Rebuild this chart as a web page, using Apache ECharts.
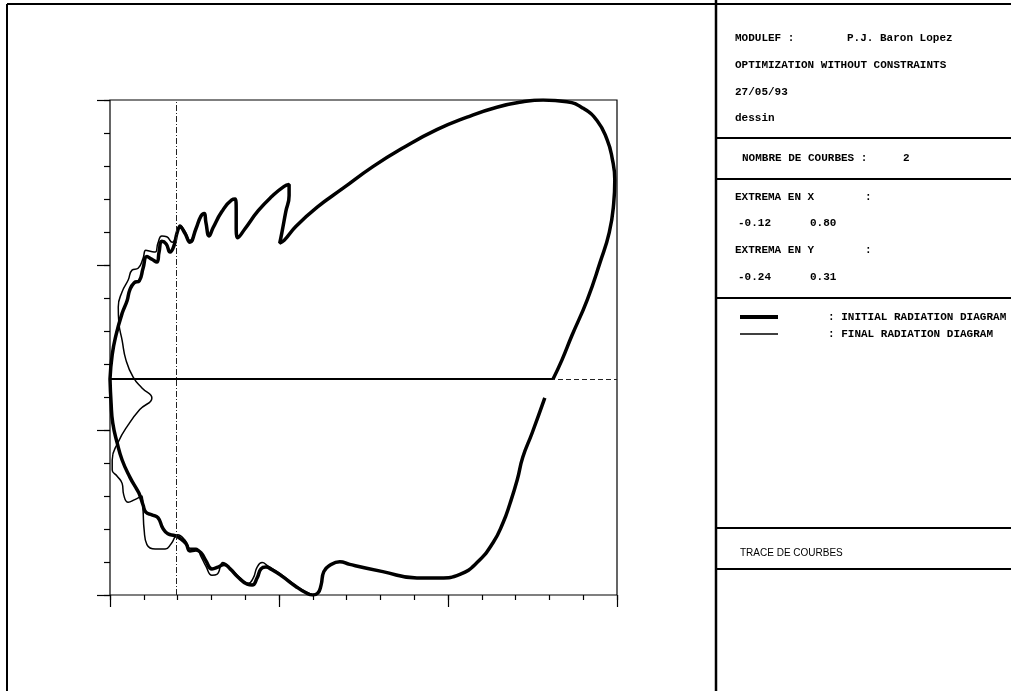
<!DOCTYPE html>
<html>
<head>
<meta charset="utf-8">
<script src="https://cdn.jsdelivr.net/npm/echarts@6.0.0/dist/echarts.min.js"></script>
<style>
  html, body { margin: 0; padding: 0; background: #fff; }
  #chart { width: 1011px; height: 691px; }
</style>
</head>
<body>
<div id="chart"></div>
<script>
// axis extrema (as printed in the panel)
const xRange = [-0.12, 0.80]
const yRange = [-0.24, 0.31]

// initial radiation diagram, upper branch (left edge -> round the lobe -> back to the axis)
const initialUpper = [
  [-0.120, 0.000], [-0.116, 0.027], [-0.109, 0.049], [-0.098, 0.073], [-0.089, 0.087],
  [-0.084, 0.099], [-0.076, 0.107], [-0.067, 0.109], [-0.060, 0.123], [-0.053, 0.136],
  [-0.044, 0.133], [-0.035, 0.130], [-0.031, 0.141], [-0.026, 0.153], [-0.018, 0.150],
  [-0.011, 0.141], [-0.004, 0.148], [0.002, 0.163], [0.007, 0.169], [0.016, 0.162],
  [0.025, 0.152], [0.036, 0.167], [0.045, 0.181], [0.051, 0.184], [0.054, 0.174],
  [0.060, 0.159], [0.067, 0.168], [0.083, 0.186], [0.101, 0.199], [0.107, 0.200],
  [0.109, 0.188], [0.109, 0.170], [0.112, 0.157], [0.125, 0.167], [0.149, 0.187],
  [0.174, 0.203], [0.196, 0.214], [0.205, 0.216], [0.205, 0.204], [0.199, 0.186],
  [0.192, 0.163], [0.188, 0.151], [0.196, 0.154], [0.218, 0.170], [0.256, 0.191],
  [0.303, 0.212], [0.357, 0.236], [0.412, 0.257], [0.473, 0.277], [0.528, 0.291],
  [0.582, 0.302], [0.629, 0.308], [0.666, 0.310], [0.709, 0.308], [0.738, 0.301],
  [0.764, 0.287], [0.782, 0.266], [0.791, 0.246], [0.796, 0.221], [0.794, 0.195],
  [0.786, 0.163], [0.769, 0.129], [0.746, 0.088], [0.718, 0.048], [0.700, 0.021],
  [0.684, 0.000]
]

// initial radiation diagram, lower branch (left edge -> bottom -> open end near the axis)
const initialLower = [
  [-0.120, 0.000], [-0.118, -0.027], [-0.115, -0.049], [-0.107, -0.071], [-0.098, -0.090],
  [-0.084, -0.109], [-0.071, -0.123], [-0.066, -0.129], [-0.060, -0.140], [-0.055, -0.148],
  [-0.044, -0.151], [-0.033, -0.154], [-0.024, -0.166], [-0.015, -0.172], [-0.002, -0.174],
  [0.007, -0.177], [0.018, -0.183], [0.025, -0.191], [0.036, -0.190], [0.045, -0.193],
  [0.054, -0.202], [0.065, -0.211], [0.076, -0.209], [0.087, -0.206], [0.098, -0.211],
  [0.112, -0.220], [0.129, -0.228], [0.138, -0.229], [0.147, -0.221], [0.154, -0.211],
  [0.163, -0.209], [0.174, -0.212], [0.192, -0.219], [0.216, -0.230], [0.234, -0.237],
  [0.248, -0.240], [0.257, -0.238], [0.263, -0.229], [0.268, -0.214], [0.279, -0.207],
  [0.297, -0.203], [0.315, -0.206], [0.375, -0.214], [0.437, -0.221], [0.479, -0.221],
  [0.515, -0.217], [0.546, -0.204], [0.575, -0.182], [0.593, -0.160], [0.606, -0.138],
  [0.619, -0.112], [0.629, -0.087], [0.646, -0.060], [0.669, -0.021]
]

// final radiation diagram: only where it leaves the initial one (elsewhere it lies under it)
const finalCurve = [
  [0.045, 0.181], [0.036, 0.168], [0.025, 0.154], [0.016, 0.164], [0.007, 0.171],
  [0.000, 0.159], [-0.007, 0.152], [-0.017, 0.158], [-0.026, 0.159], [-0.033, 0.151],
  [-0.038, 0.141], [-0.047, 0.142], [-0.055, 0.143], [-0.060, 0.134], [-0.069, 0.123],
  [-0.080, 0.121], [-0.087, 0.110], [-0.098, 0.097], [-0.105, 0.080], [-0.104, 0.063],
  [-0.098, 0.043], [-0.091, 0.021], [-0.078, 0.002], [-0.062, -0.010], [-0.044, -0.021],
  [-0.066, -0.034], [-0.087, -0.051], [-0.105, -0.070], [-0.116, -0.090], [-0.116, -0.101],
  [-0.107, -0.108], [-0.098, -0.116], [-0.095, -0.129], [-0.087, -0.137], [-0.075, -0.134],
  [-0.062, -0.130], [-0.060, -0.146], [-0.058, -0.168], [-0.053, -0.184], [-0.038, -0.189],
  [-0.020, -0.189], [-0.009, -0.183], [0.003, -0.173], [0.016, -0.179], [0.025, -0.188],
  [0.036, -0.188], [0.045, -0.197], [0.054, -0.208], [0.065, -0.218], [0.074, -0.217],
  [0.085, -0.204], [0.098, -0.210], [0.116, -0.221], [0.131, -0.227], [0.140, -0.221],
  [0.147, -0.209], [0.156, -0.204], [0.167, -0.208], [0.188, -0.216], [0.225, -0.233],
  [0.248, -0.240]
]

// radius drawn along y = 0 by the initial diagram
const axisSegment = [[-0.12, 0], [0.684, 0]]

// tick divisions of the frame
const tickCount = 15
const majorEvery = 5

const panelTexts = [
  ['MODULEF :', 735, 38], ['P.J. Baron Lopez', 847, 38],
  ['OPTIMIZATION WITHOUT CONSTRAINTS', 735, 65],
  ['27/05/93', 735, 92],
  ['dessin', 735, 118],
  ['NOMBRE DE COURBES :', 742, 158], ['2', 903, 158],
  ['EXTREMA EN X', 735, 197], [':', 865, 197],
  ['-0.12', 738, 223], ['0.80', 810, 223],
  ['EXTREMA EN Y', 735, 250], [':', 865, 250],
  ['-0.24', 738, 277], ['0.31', 810, 277],
  [': INITIAL RADIATION DIAGRAM', 828, 317],
  [': FINAL RADIATION DIAGRAM', 828, 334]
]

const chart = echarts.init(document.getElementById('chart'))

function tickAxis(pos, interval, len) {
  return {
    type: 'value',
    position: pos,
    min: 0,
    max: tickCount,
    interval: interval,
    axisLine: {show: false},
    axisLabel: {show: false},
    splitLine: {show: false},
    axisTick: {show: true, length: len, lineStyle: {color: '#000', width: 1.2}}
  }
}

function hline(x1, y1, x2, y2, w) {
  return {type: 'line', silent: true, shape: {x1: x1, y1: y1, x2: x2, y2: y2},
    style: {stroke: '#000', lineWidth: w}}
}

const graphics = [
  hline(7, 4, 1011, 4, 2),
  hline(7, 4, 7, 691, 2),
  hline(716, 0, 716, 691, 2.5),
  hline(716, 138, 1011, 138, 2),
  hline(716, 179, 1011, 179, 2),
  hline(716, 298, 1011, 298, 2),
  hline(716, 528, 1011, 528, 2),
  hline(716, 569, 1011, 569, 2),
  hline(740, 317, 778, 317, 4),
  hline(740, 334, 778, 334, 1.5),
  {
    type: 'text', silent: true,
    style: {text: 'TRACE DE COURBES', x: 740, y: 553, fill: '#000',
      font: '10px "Liberation Sans"', textVerticalAlign: 'middle'}
  }
]
panelTexts.forEach(function (t) {
  graphics.push({
    type: 'text', silent: true,
    style: {text: t[0], x: t[1], y: t[2], fill: '#000',
      font: 'bold 11px "Liberation Mono"', textVerticalAlign: 'middle'}
  })
})

const option = {
  animation: false,
  backgroundColor: '#fff',
  grid: {
    left: 110, top: 100, width: 507, height: 495,
    containLabel: false,
    outerBoundsMode: 'none',
    show: true,
    borderColor: '#000',
    borderWidth: 1.2
  },
  xAxis: [
    {type: 'value', min: xRange[0], max: xRange[1], show: false},
    tickAxis('bottom', 1, 5),
    tickAxis('bottom', majorEvery, 12)
  ],
  yAxis: [
    {type: 'value', min: yRange[0], max: yRange[1], show: false},
    tickAxis('left', 1, 6),
    tickAxis('left', majorEvery, 13)
  ],
  graphic: graphics,
  series: [
    {
      name: 'FINAL RADIATION DIAGRAM',
      type: 'line',
      data: finalCurve,
      showSymbol: false,
      smooth: 0.5,
      silent: true,
      lineStyle: {color: '#000', width: 1.5},
      markLine: {
        silent: true,
        symbol: 'none',
        label: {show: false},
        data: [
          {xAxis: 0, lineStyle: {color: '#222', width: 1, type: [6, 2, 1, 2]}},
          {yAxis: 0, lineStyle: {color: '#222', width: 1, type: [5, 3]}},
          [
            {coord: axisSegment[0], lineStyle: {color: '#000', width: 2, type: 'solid'}},
            {coord: axisSegment[1]}
          ]
        ]
      }
    },
    {
      name: 'INITIAL RADIATION DIAGRAM',
      type: 'line',
      data: initialUpper,
      showSymbol: false,
      smooth: 0.5,
      silent: true,
      lineStyle: {color: '#000', width: 3.5}
    },
    {
      name: 'INITIAL RADIATION DIAGRAM',
      type: 'line',
      data: initialLower,
      showSymbol: false,
      smooth: 0.5,
      silent: true,
      lineStyle: {color: '#000', width: 3.5}
    }
  ]
}

chart.setOption(option)
window.addEventListener('resize', () => {
  chart.resize()
})
</script>
</body>
</html>
